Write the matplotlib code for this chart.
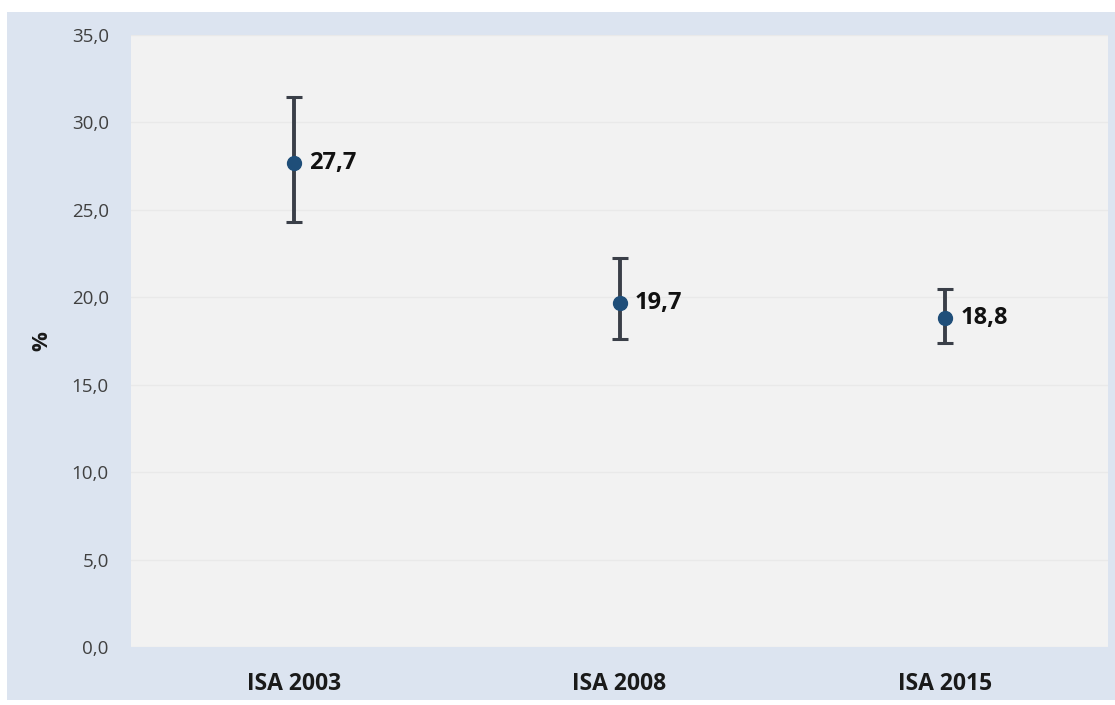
import matplotlib
matplotlib.use("Agg")
import matplotlib.pyplot as plt
from matplotlib.patches import Rectangle
from matplotlib.ticker import FixedLocator

categories = ["ISA 2003", "ISA 2008", "ISA 2015"]
values = [27.7, 19.7, 18.8]
upper = [31.45, 22.25, 20.45]
lower = [24.3, 17.6, 17.4]
yticks = [0, 5, 10, 15, 20, 25, 30, 35]
value_labels = ["27,7", "19,7", "18,8"]

plt.rcParams['font.family'] = ['Open Sans', 'DejaVu Sans']

W, H = 1115, 705
fig = plt.figure(figsize=(W / 100, H / 100), dpi=100)
fig.patch.set_facecolor("white")
fig.patches.append(Rectangle((7 / W, 1 - 700 / H), (W - 7) / W, (700 - 12) / H,
                             transform=fig.transFigure, facecolor="#dce4f0",
                             edgecolor="none", zorder=-5))

ax = fig.add_axes([131 / W, 1 - 647 / H, (1108 - 131) / W, (647 - 35) / H])
ax.set_zorder(2)
ax.set_facecolor("#f2f2f2")
for s in ax.spines.values():
    s.set_visible(False)

x = list(range(len(categories)))
yerr = [[v - l for v, l in zip(values, lower)], [u - v for v, u in zip(values, upper)]]
ax.errorbar(x, values, yerr=yerr, fmt="o", color="#1f4e79", markersize=10,
            ecolor="#3a3f48", elinewidth=2.8, capsize=5.5, capthick=2.2, zorder=3)

for xi, v, lab in zip(x, values, value_labels):
    ax.annotate(lab, (xi, v), xytext=(11, 0), textcoords="offset points",
                ha="left", va="center", fontsize=17, fontweight="bold", color="#111111")

ax.set_xlim(-0.5, len(categories) - 0.5)
ax.set_ylim(0, 35)
ax.yaxis.set_major_locator(FixedLocator(yticks))
ax.set_yticklabels([f"{t:.1f}".replace(".", ",") for t in yticks])
ax.grid(axis="y", color="#e9e9e9", linewidth=1.0, zorder=0)
ax.set_axisbelow(True)
ax.set_xticks(x)
ax.set_xticklabels(categories, fontsize=16.5, fontweight="bold", color="#1a1a1a")
ax.tick_params(axis="x", length=0, pad=18)
ax.tick_params(axis="y", length=0, pad=16, labelsize=13.5, labelcolor="#404040")
ax.set_ylabel("%", fontsize=16, fontweight="bold", color="#1a1a1a", labelpad=14)

fig.savefig("out.png", dpi=100, facecolor=fig.get_facecolor())
